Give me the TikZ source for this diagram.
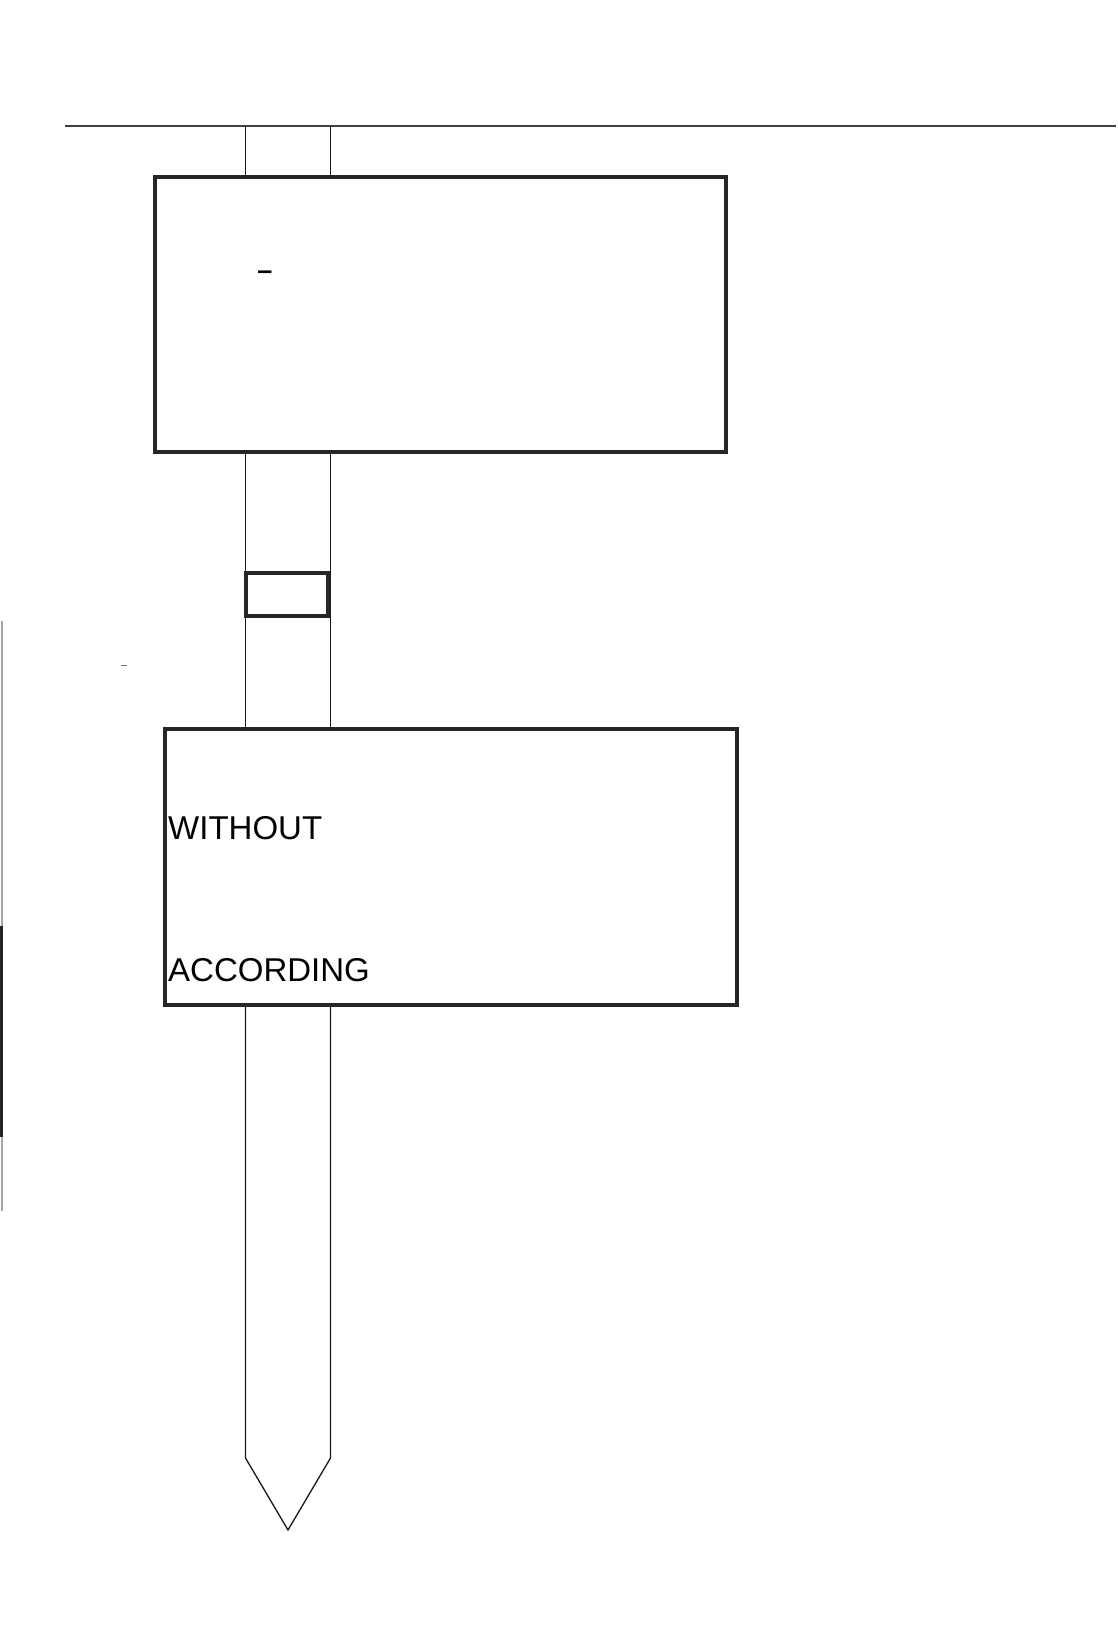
\documentclass[tikz,border=0pt]{standalone}
\usepackage{fontspec}
\setmainfont{Liberation Sans}
\begin{document}
\begin{tikzpicture}[x=1pt,y=-1pt,
  sign/.style={draw=black!85, line width=4pt, fill=white, rectangle, inner sep=0pt},
  post/.style={draw=black!90, line width=1.3pt, line join=miter},
  lbl/.style={font=\fontsize{33}{38}\selectfont, anchor=base west, inner sep=0pt, text=black}]
\useasboundingbox (0,0) rectangle (1118,1651);
\fill[white] (0,0) rectangle (1118,1651);
% top rule
\coordinate (ruleL) at (65,126);
\coordinate (ruleR) at (1116,126);
\draw[line width=1.6pt, black!75] (ruleL) -- (ruleR);
% post axes
\coordinate (pL) at (245.5,0);
\coordinate (pR) at (330.5,0);
\coordinate (tipTop) at (0,1458);
\coordinate (tip) at (288,1530);
% sign boards
\node[sign, minimum width=571pt, minimum height=275pt] (box1) at (440.5,314.5) {};
\node[sign, minimum width=572pt, minimum height=276pt] (box2) at (451,867) {};
% post segments
\draw[post] (pL |- ruleL) -- (pL |- box1.north);
\draw[post] (pR |- ruleL) -- (pR |- box1.north);
\draw[post] (pL |- box1.south) -- (pL |- box2.north);
\draw[post] (pR |- box1.south) -- (pR |- box2.north);
\draw[post] (pL |- box2.south) -- (pL |- tipTop) -- (tip) -- (pR |- tipTop) -- (pR |- box2.south);
% small plate on the post
\node[sign, line width=3.2pt, fill=none, minimum width=82pt, minimum height=43pt] (plate) at (287,594.5) {};
% legible texts
\node[lbl, anchor=base, font=\fontsize{27}{32}\selectfont\bfseries] (dash) at (265,279) {–};
\node[lbl] (without) at (168,839) {WITHOUT};
\node[lbl] (according) at (168,981) {ACCORDING};
% scan marks at the left edge
\draw[line width=2pt, black!35] (1.5,621) -- (1.5,1211);
\draw[line width=2.5pt, black!85] (1.5,926) -- (1.5,1137);
\draw[line width=1pt, black!55] (121,665) -- (127,665);
\end{tikzpicture}
\end{document}
